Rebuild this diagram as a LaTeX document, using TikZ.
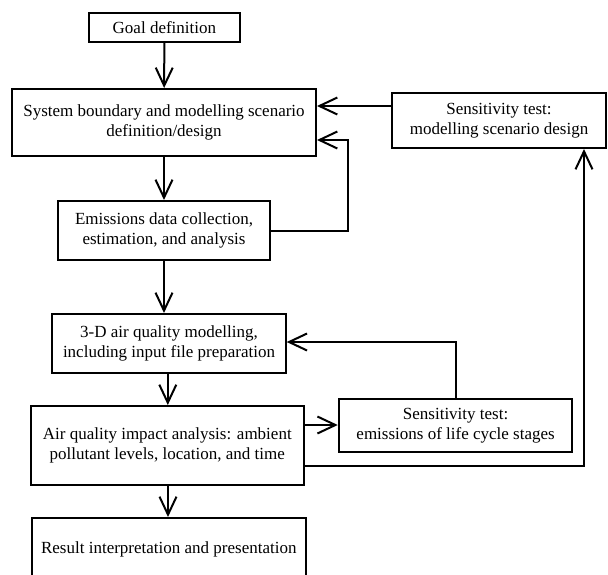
\documentclass[tikz,border=0pt]{standalone}
\usepackage{fontspec}
\setmainfont{Liberation Serif}
\usetikzlibrary{arrows.meta}
\begin{document}
\begin{tikzpicture}[x=1pt,y=-1pt,
  box/.style={draw, line width=2pt, inner sep=0pt, align=center,
    font=\fontsize{17}{19.5}\selectfont},
  arr/.style={line width=2pt, -{Straight Barb[length=18pt,width=17pt,line width=2pt]}}]
\clip (0,0) rectangle (608,574);
\fill[white] (0,0) rectangle (608,574);

\node[box, minimum width=151pt, minimum height=29pt] (goal) at (164.4,27.5) {Goal definition};
\node[box, minimum width=304pt, minimum height=67pt] (sys) at (164,122.5)
  {System boundary and modelling scenario\\definition/design};
\node[box, minimum width=214pt, minimum height=55pt] (sens1) at (499,120.5)
  {Sensitivity test:\\modelling scenario design};
\node[box, minimum width=212pt, minimum height=59pt] (emis) at (164,230.5)
  {Emissions data collection,\\estimation, and analysis};
\node[box, minimum width=233.4pt, minimum height=59pt] (three) at (169,343.5)
  {3-D air quality modelling,\\including input file preparation};
\node[box, minimum width=273.4pt, minimum height=79pt] (aq) at (167.3,445.5)
  {Air quality impact analysis: ambient\\pollutant levels, location, and time};
\node[box, minimum width=233.7pt, minimum height=53pt] (sens2) at (455.6,425.5)
  {Sensitivity test:\\emissions of life cycle stages};
\node[box, minimum width=274pt, minimum height=62pt] (res) at (168.8,549)
  {Result interpretation and presentation};

\coordinate (fb1) at (347.7,140);
\coordinate (fb2) at (584,466);

\draw[arr] (goal) -- (sys);
\draw[arr] (sys) -- (emis);
\draw[arr] (sens1.west |- 0,106) -- (sys.east |- 0,106);
\draw[arr] (emis.east) -| (fb1) -- (sys.east |- fb1);
\draw[arr] (emis.south) -- (emis.south |- three.north);
\draw[arr] (sens2.north) |- (three.east |- 0,342);
\draw[arr] (three.south -| 167.8,0) -- (aq.north -| 167.8,0);
\draw[arr] (aq.east |- 0,425) -- (sens2.west |- 0,425);
\draw[arr] (aq.east |- fb2) -- (fb2) -- (sens1.south -| fb2);
\draw[arr] (aq.south -| 168,0) -- (res.north -| 168,0);
\end{tikzpicture}
\end{document}
